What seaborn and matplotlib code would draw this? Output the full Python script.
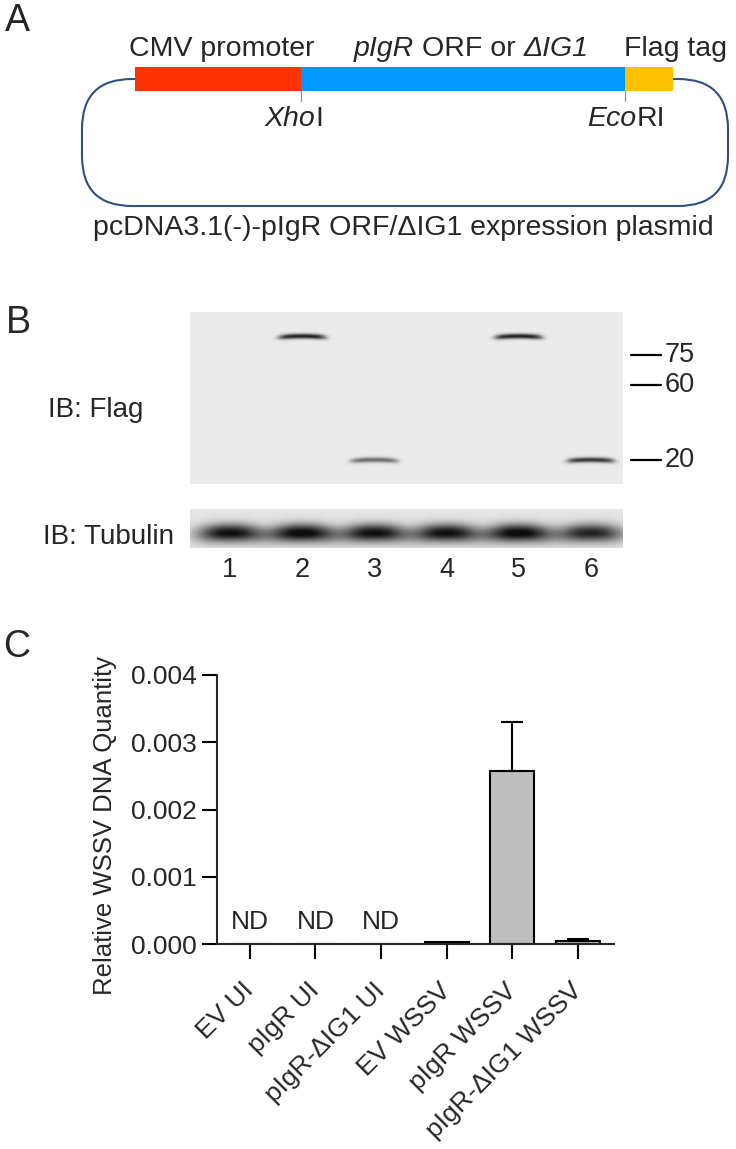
import numpy as np
import pandas as pd
import matplotlib
matplotlib.use("Agg")
import matplotlib.pyplot as plt
from matplotlib.patches import Rectangle, FancyBboxPatch
from matplotlib.offsetbox import TextArea, HPacker, AnnotationBbox
import seaborn as sns

# ---------------- data ----------------
# panel C: qPCR of WSSV DNA
groups = ["EV UI", "pIgR UI", "pIgR-ΔIG1 UI", "EV WSSV", "pIgR WSSV", "pIgR-ΔIG1 WSSV"]
wssv_mean = [0.0, 0.0, 0.0, 0.00003, 0.00257, 0.00005]
wssv_sem = [0.0, 0.0, 0.0, 0.0, 0.00073, 0.00002]
not_detected = [True, True, True, False, False, False]
y_ticks = [0.000, 0.001, 0.002, 0.003, 0.004]

# panel B: western blot (relative band signal per lane)
lanes = [1, 2, 3, 4, 5, 6]
flag_full_signal = [0.0, 0.95, 0.0, 0.0, 0.95, 0.0]     # pIgR-Flag, above 75 kDa
flag_short_signal = [0.0, 0.0, 0.6, 0.0, 0.0, 0.85]     # ΔIG1-Flag, ~20 kDa
tubulin_signal = [1.0, 1.05, 1.0, 1.0, 1.05, 0.9]
marker_kda = ["75", "60", "20"]
marker_migration = [43, 73, 148]   # px down the Flag membrane
full_migration = 24
short_migration = 148

# panel A: construct map, (text, italic) pieces
segment_labels = [[("CMV promoter", False)],
                  [("pIgR", True), ("ORF or", False), ("ΔIG1", True)],
                  [("Flag tag", False)]]
segment_colors = ["#FF3300", "#0099FF", "#FFC000"]
site_labels = [[("Xho", True), ("I", False)], [("Eco", True), ("RI", False)]]
plasmid_name = "pcDNA3.1(-)-pIgR ORF/ΔIG1 expression plasmid"

# ---------------- style ----------------
sns.set_style("ticks")
plt.rcParams["font.family"] = ["Liberation Sans", "DejaVu Sans"]

W, H = 736, 1149
fig = plt.figure(figsize=(W / 100, H / 100), dpi=100)


def px_axes(x0, y0, x1, y1):
    return fig.add_axes([x0 / W, 1 - y1 / H, (x1 - x0) / W, (y1 - y0) / H])


def mixed_text(ax, x, y, parts, size):
    # words with separate styles, packed side by side; a word gap between pieces
    # only where the original text has one
    areas = [TextArea(t, textprops=dict(fontsize=size, fontstyle="italic" if it else "normal"))
             for t, it in parts]
    gap = 0.278 * size if len(parts) > 2 else 0
    box = HPacker(children=areas, align="baseline", pad=0, sep=gap)
    ax.add_artist(AnnotationBbox(box, (x, y), xycoords="data", frameon=False,
                                 box_alignment=(0.5, 0.5), pad=0))


# overlay in pixel units for the diagram and labels
ax0 = fig.add_axes([0, 0, 1, 1])
ax0.set_xlim(0, W)
ax0.set_ylim(H, 0)
ax0.axis("off")

for lab, (x, y) in zip("ABC", [(17, 21), (18, 323), (17, 647)]):
    ax0.text(x, y, lab, fontsize=27, ha="center", va="center")

# ---- panel A ----
ax0.add_patch(FancyBboxPatch((82, 79), 728 - 82, 206 - 79,
                             boxstyle="round,pad=0,rounding_size=50",
                             fill=False, ec="#2F4F80", lw=1.5))
edges = [135, 301, 625, 673]
for i in range(3):
    ax0.add_patch(Rectangle((edges[i], 67), edges[i + 1] - edges[i], 24,
                            color=segment_colors[i], lw=0, zorder=3))
for cx, parts in zip([222, 471, 676], segment_labels):
    mixed_text(ax0, cx, 49, parts, 20.5)
for sx, cx, parts in zip([301, 625], [294, 626], site_labels):
    ax0.plot([sx, sx], [91, 101], color="#6A9AC8", lw=0.9)
    mixed_text(ax0, cx, 119, parts, 20.5)
ax0.text(403, 228, plasmid_name, fontsize=20.5, ha="center", va="center")

# ---- panel B ----
lane_step = 72.2
lo = lanes[0] - (230 - 190) / lane_step
hi = lo + (623 - 190) / lane_step


def blot(ax, height, bands, bg, sig_y, half_w, power, dark=0.08):
    xs = np.linspace(lo, hi, 866)
    ys = np.linspace(0, height, int(height * 2))
    X, Y = np.meshgrid(xs, ys)
    dens = np.zeros_like(X)
    for lane, mig, s in bands:
        if s <= 0:
            continue
        u = (X - lane) / half_w
        yc = mig + 1.2 * u ** 2
        dens += s * np.exp(-np.abs(u) ** power) * np.exp(-0.5 * ((Y - yc) / sig_y) ** 2)
    img = bg - np.clip(dens, 0, 1) * (bg - dark)
    ax.imshow(img, cmap="gray", vmin=0, vmax=1, aspect="auto",
              extent=[lo, hi, height, 0], interpolation="bilinear")
    ax.set_xlim(lo, hi)
    ax.set_ylim(height, 0)
    ax.axis("off")


ax_f = px_axes(190, 312, 623, 484)
bands = [(l, full_migration, s) for l, s in zip(lanes, flag_full_signal)]
bands += [(l, short_migration, s) for l, s in zip(lanes, flag_short_signal)]
blot(ax_f, 172, bands, 0.92, 1.8, 0.33, 6)

tr = ax_f.get_yaxis_transform()
for lab, m in zip(marker_kda, marker_migration):
    ax_f.plot([1.018, 1.088], [m, m], color="black", lw=1.6, transform=tr, clip_on=False)
    ax_f.text(1.095, m, lab, fontsize=19.5, ha="left", va="center", transform=tr)

ax_t = px_axes(190, 509, 623, 548)
blot(ax_t, 39, [(l, 24, s) for l, s in zip(lanes, tubulin_signal)], 0.9, 6.5, 0.45, 2.5, dark=0.05)
for l in lanes:
    ax_t.text(l, -0.56, str(l), fontsize=19.5, ha="center", va="center",
              transform=ax_t.get_xaxis_transform())

ax0.text(48, 410, "IB: Flag", fontsize=20, ha="left", va="center")
ax0.text(43, 537, "IB: Tubulin", fontsize=20, ha="left", va="center")

# ---- panel C ----
ax_c = px_axes(217, 675, 614, 944)
df = pd.DataFrame({"group": groups, "mean": wssv_mean})
sns.barplot(data=df, x="group", y="mean", order=groups, color="#BEBEBE",
            saturation=1, edgecolor="black", linewidth=1.5, width=0.67,
            errorbar=None, ax=ax_c)
idx = [i for i, s in enumerate(wssv_sem) if s > 0]
ax_c.errorbar(idx, [wssv_mean[i] for i in idx],
              yerr=[[0] * len(idx), [wssv_sem[i] for i in idx]],
              fmt="none", ecolor="black", elinewidth=1.5, capsize=8, capthick=1.5)
for i, nd in enumerate(not_detected):
    if nd:
        ax_c.text(i, 0.00015, "ND", fontsize=19, ha="center", va="bottom")

ax_c.set_xlim(-0.5, 5.55)
ax_c.set_ylim(0, 0.004)
ax_c.set_yticks(y_ticks)
ax_c.set_yticklabels([f"{v:.3f}" for v in y_ticks])
ax_c.set_xlabel("")
ax_c.set_ylabel("Relative WSSV DNA Quantity", fontsize=18.5)
ax_c.yaxis.set_label_coords(-0.252, 0.442)
sns.despine(ax=ax_c)
for sp in ["left", "bottom"]:
    ax_c.spines[sp].set_linewidth(1.5)
ax_c.tick_params(length=10.8, width=1.5, labelsize=19, color="black")
ax_c.tick_params(axis="y", pad=4)
ax_c.tick_params(axis="x", pad=20)
plt.setp(ax_c.get_xticklabels(), rotation=45, ha="right", va="center",
         rotation_mode="anchor", fontstyle="normal")

fig.savefig("out.png", dpi=100)
